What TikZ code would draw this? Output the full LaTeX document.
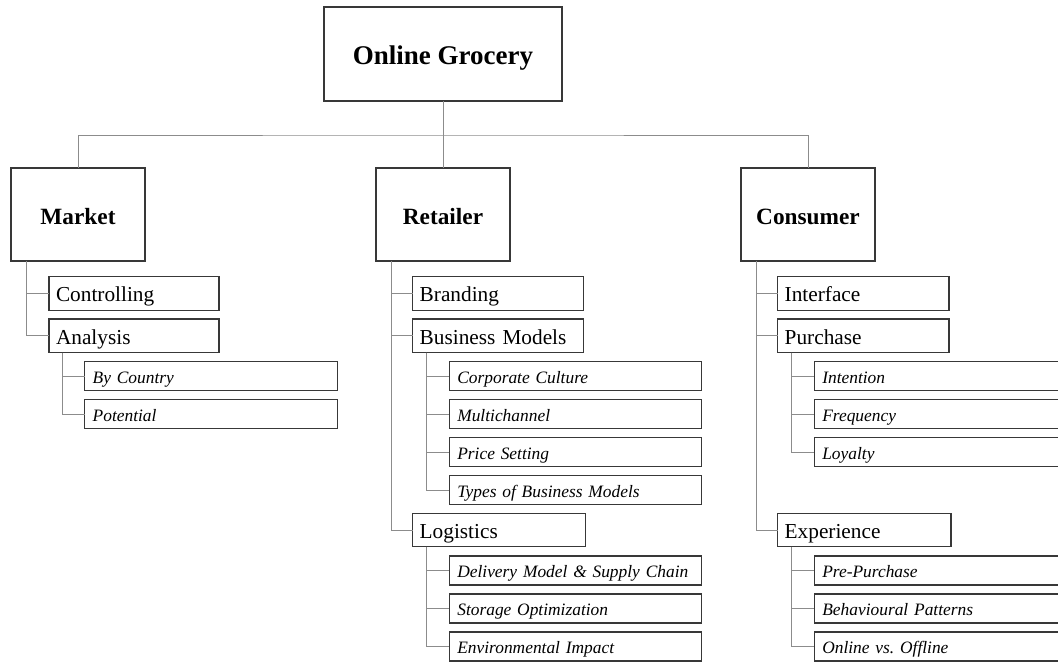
\documentclass[tikz,border=0pt]{standalone}
\usepackage{fontspec}
\setmainfont{Liberation Serif}
\frenchspacing
\begin{document}
\begin{tikzpicture}[x=1pt,y=-1pt,
  box/.style={draw=black!78, line width=1.1pt, outer sep=0pt, inner ysep=0pt, fill=white},
  conn/.style={draw=black!45, line width=0.9pt},
  root/.style={box, minimum width=238pt, minimum height=94pt,
    font=\bfseries\fontsize{27}{30}\selectfont, text height=25pt, text depth=5pt},
  cat/.style={box, minimum width=134pt, minimum height=93pt,
    font=\bfseries\fontsize{23.3}{26}\selectfont, text height=24pt, text depth=5pt},
  sub/.style={box, anchor=north west, minimum height=33.5pt, inner xsep=7pt, align=left,
    font=\fontsize{21.3}{25}\selectfont, text height=20.7pt, text depth=4pt},
  leaf/.style={box, anchor=north west, minimum height=29pt, inner xsep=8pt,
    text width=236.4pt, align=left,
    font=\itshape\fontsize{17.4}{21}\selectfont, text height=17.6pt, text depth=3.5pt},
]
\useasboundingbox (0,0) rectangle (1058,662);
\clip (0,0) rectangle (1058,662);

% root and the three main areas
\node[root] (og) at (443,54) {Online Grocery};
\node[cat] (mkt) at (78,214.5) {Market};
\node[cat] (ret) at (443,214.5) {Retailer};
\node[cat] (con) at (808,214.5) {Consumer};

% Market
\node[sub, text width=156pt] (ctrl) at (49,276.7) {Controlling};
\node[sub, text width=156pt] (ana) at (49,319) {Analysis};
\node[leaf] (bc) at (84.7,361.7) {By Country};
\node[leaf] (pot) at (84.7,399.7) {Potential};

% Retailer
\node[sub, text width=156.6pt] (brand) at (412.7,276.7) {Branding};
\node[sub, text width=156.6pt] (bm) at (412.7,319) {Business Models};
\node[leaf] (cc) at (449.3,361.7) {Corporate Culture};
\node[leaf] (mc) at (449.3,399.7) {Multichannel};
\node[leaf] (ps) at (449.3,437.7) {Price Setting};
\node[leaf] (tbm) at (449.3,475.7) {Types of Business Models};
\node[sub, text width=159pt] (log) at (412.7,513.3) {Logistics};
\node[leaf] (dm) at (449.3,556) {Delivery Model \& Supply Chain};
\node[leaf] (so) at (449.3,594) {Storage Optimization};
\node[leaf] (ei) at (449.3,632) {Environmental Impact};

% Consumer
\node[sub, text width=157.3pt] (intf) at (777.7,276.7) {Interface};
\node[sub, text width=157.3pt] (pur) at (777.7,319) {Purchase};
\node[leaf] (int) at (814.3,361.7) {Intention};
\node[leaf] (fr) at (814.3,399.7) {Frequency};
\node[leaf] (loy) at (814.3,437.7) {Loyalty};
\node[sub, text width=159.3pt] (exp) at (777.7,513.3) {Experience};
\node[leaf] (pp) at (814.3,556) {Pre-Purchase};
\node[leaf] (bp) at (814.3,594) {Behavioural Patterns};
\node[leaf] (oo) at (814.3,632) {Online vs.\ Offline};

% top-level connectors
\coordinate (bar) at (443,135);
\draw[conn] (og.south) -- (ret.north);
\draw[conn] (mkt.north) |- (bar) -| (con.north);

% area trunks
\foreach \p/\c in {mkt/ctrl, mkt/ana, ret/brand, ret/bm, ret/log, con/intf, con/pur, con/exp}
  \draw[conn] ([xshift=15pt]\p.south west) |- (\c.west);

% sub-topic trunks
\foreach \p/\c in {ana/bc, ana/pot, bm/cc, bm/mc, bm/ps, bm/tbm, log/dm, log/so, log/ei,
                   pur/int, pur/fr, pur/loy, exp/pp, exp/bp, exp/oo}
  \draw[conn] ([xshift=13.5pt]\p.south west) |- (\c.west);
\end{tikzpicture}
\end{document}
